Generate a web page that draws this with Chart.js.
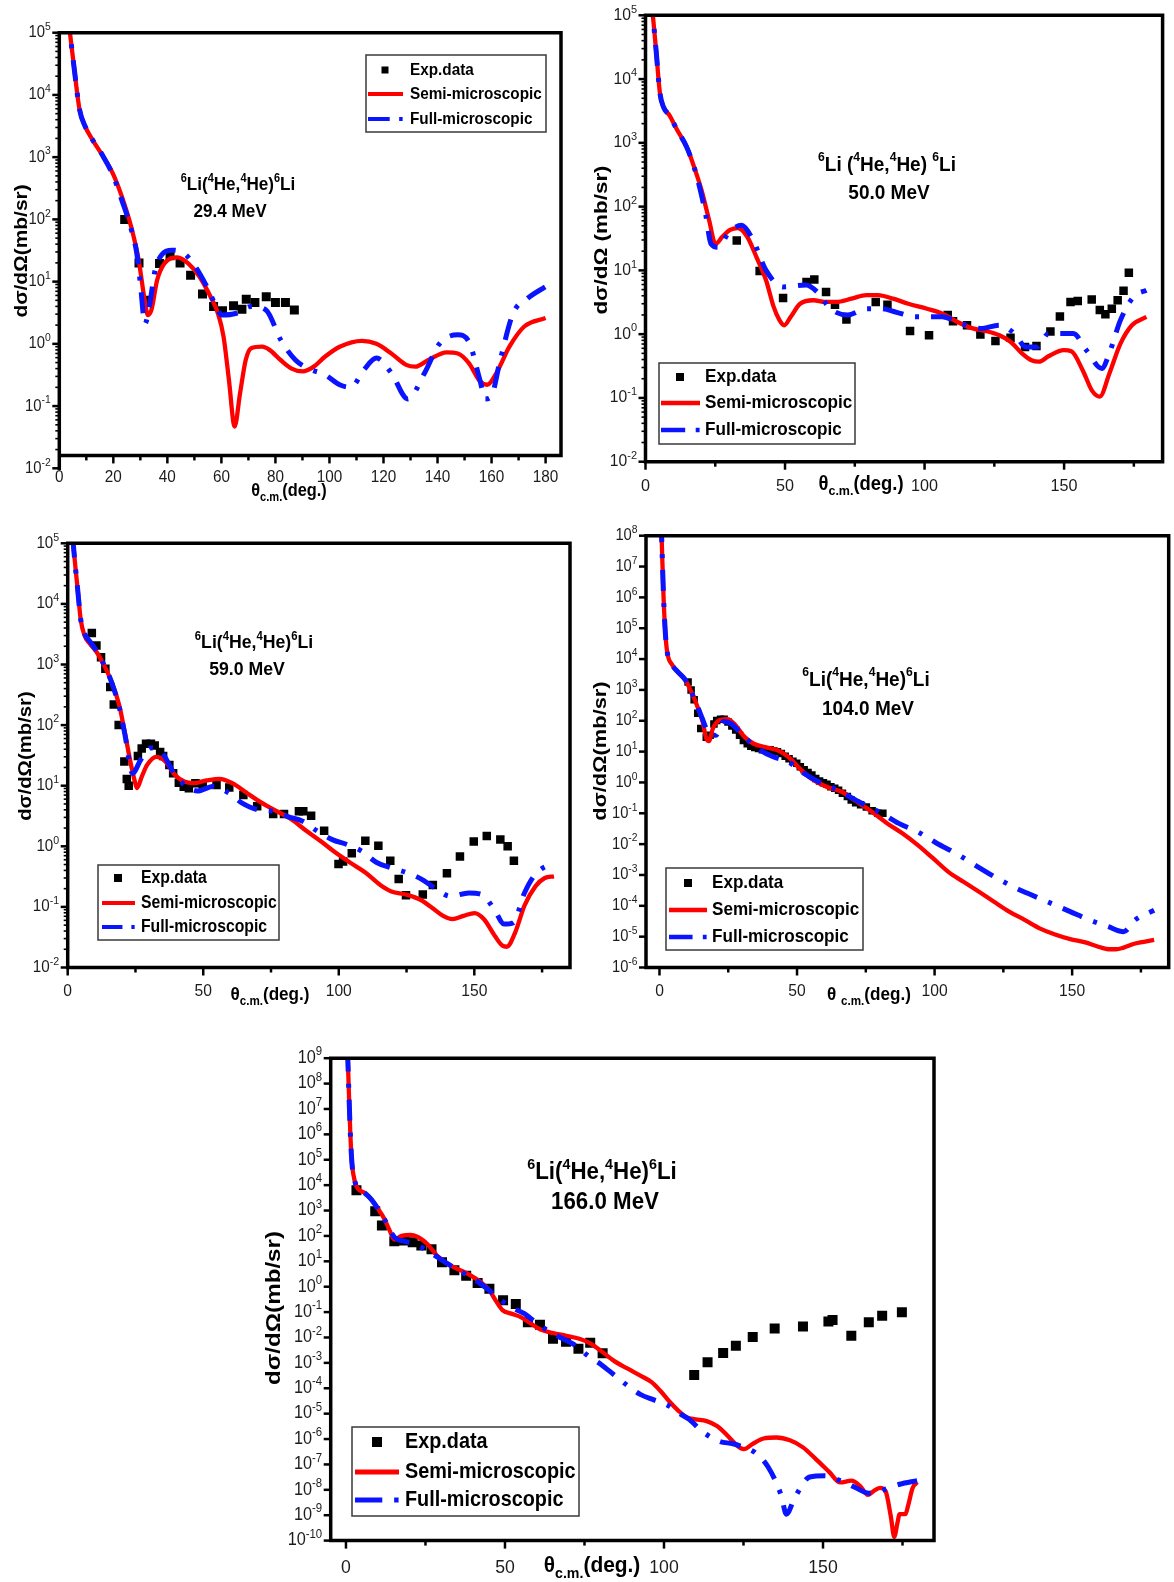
<!DOCTYPE html>
<html>
<head>
<meta charset="utf-8">
<title>6Li(4He,4He)6Li elastic scattering angular distributions</title>
<script src="https://cdn.jsdelivr.net/npm/chart.js@4.4.1/dist/chart.umd.min.js"></script>
<style>
  html, body { margin: 0; padding: 0; background: #fff; }
  #page { position: relative; width: 1174px; height: 1582px; overflow: hidden; background: #fff; }
  #page canvas { position: absolute; left: 0; top: 0; }
</style>
</head>
<body>
<div id="page">
  <canvas id="e29"></canvas>
  <canvas id="e50"></canvas>
  <canvas id="e59"></canvas>
  <canvas id="e104"></canvas>
  <canvas id="e166"></canvas>
</div>
<script>
// ---------- 29.4 MeV ----------
const exp29Angle = [24.2, 29.5, 32.5, 37.1, 41, 44.7, 48.6, 53, 57.1, 60.4, 64.5, 67.6, 69.2, 72.4, 76.6, 80, 83.7, 87];
const exp29Value = [100, 20, 5, 19.5, 26, 20, 12.6, 6.3, 4, 3.4, 4.1, 3.6, 5.2, 4.6, 5.7, 4.6, 4.6, 3.5];
const semi29Angle = [3.0, 5.5, 7.5, 9.6, 12.3, 16.4, 19.8, 23.2, 26.6, 29.4, 31.4, 32.8, 34.1, 36.2, 38.9, 43.7, 47.8, 51.9, 56, 58.7, 60.8, 62.8, 64.9, 66.9, 69, 71, 75.1, 77.8, 81.9, 86, 90.1, 94.2, 98.3, 103.8, 112, 117.4, 122.9, 128.4, 131.8, 136.6, 143.4, 147.5, 151.6, 155.7, 158.4, 161.8, 166.6, 172.1, 180];
const semi29Value = [2.2e5, 2.7e4, 5.8e3, 3.1e3, 1.9e3, 1e3, 550, 230, 76, 22, 5.7, 2.9, 3.5, 10.5, 19.5, 24.5, 19.5, 12, 5.7, 3.1, 1.3, 0.26, 0.047, 0.16, 0.55, 0.85, 0.9, 0.8, 0.55, 0.4, 0.36, 0.43, 0.62, 0.9, 1.12, 1.0, 0.7, 0.46, 0.43, 0.55, 0.73, 0.7, 0.49, 0.25, 0.22, 0.34, 0.9, 1.9, 2.6];
const full29Angle = [3.0, 5.5, 7.5, 9.6, 12.3, 16.4, 19.8, 23.2, 26.6, 28.7, 30, 31.7, 33.5, 35.5, 38.2, 41.7, 46.4, 50.5, 54.6, 58.7, 60, 65.6, 71, 76.5, 82, 87.4, 92.9, 98.3, 103.8, 107.9, 112.7, 117.4, 122.9, 129, 135.2, 140.7, 147.5, 151.6, 155.7, 157.7, 159.8, 163.2, 168, 173.4, 180];
const full29Value = [2.2e5, 2.7e4, 5.8e3, 3.1e3, 1.9e3, 1e3, 520, 200, 70, 28, 9.3, 2.1, 4.5, 15.5, 28, 32, 28, 17, 8.3, 3.5, 2.9, 3.1, 4, 3.5, 1.15, 0.55, 0.39, 0.32, 0.22, 0.2, 0.38, 0.59, 0.34, 0.13, 0.34, 1.0, 1.4, 1.08, 0.26, 0.13, 0.14, 0.55, 3.1, 5.4, 8.3];
const xTicks29 = [0, 20, 40, 60, 80, 100, 120, 140, 160, 180];
const xMinor29 = [10, 30, 50, 70, 90, 110, 130, 150, 170];
const yDecades29 = [-2, 5];

// ---------- 50.0 MeV ----------
const exp50Angle = [32.7, 40.9, 49.3, 57.7, 60.5, 64.7, 67.9, 72, 82.5, 86.7, 94.8, 101.6, 108.3, 110.2, 115.2, 120, 125.4, 130.8, 136, 140.1, 145.1, 148.5, 152.3, 154.9, 159.9, 162.8, 164.8, 167.1, 169.2, 171.3, 173.2];
const exp50Value = [29.5, 9.8, 3.7, 6.6, 7.2, 4.6, 2.9, 1.7, 3.2, 2.9, 1.12, 0.96, 2.0, 1.6, 1.38, 0.99, 0.78, 0.88, 0.63, 0.65, 1.1, 1.9, 3.2, 3.3, 3.5, 2.4, 2.05, 2.5, 3.4, 4.8, 9.2];
const semi50Angle = [2.0, 3.8, 5.2, 6.5, 8.6, 11.3, 14.7, 17.4, 20.1, 22.8, 25.1, 27.6, 30.3, 33, 36.4, 39.8, 43.2, 45.9, 48, 49.7, 52, 55.4, 60.2, 64.3, 68.3, 73.8, 79.2, 83.3, 88.7, 94.2, 100.9, 106.4, 111.8, 117.3, 122.7, 126.8, 130.8, 134.9, 138.3, 141, 144.4, 149.9, 152.6, 156.7, 160, 162.8, 166.2, 170.2, 174.3, 179.5];
const semi50Value = [2e5, 2.8e4, 5.9e3, 3.6e3, 2.7e3, 1.6e3, 870, 420, 180, 61, 26, 34, 43, 46, 34, 16, 7, 2.7, 1.66, 1.38, 1.86, 3.0, 3.4, 3.2, 3.2, 3.6, 4.1, 4.1, 3.6, 3.0, 2.5, 2.1, 1.55, 1.23, 1.1, 0.96, 0.76, 0.5, 0.39, 0.37, 0.45, 0.56, 0.54, 0.27, 0.13, 0.105, 0.24, 0.71, 1.38, 1.86];
const full50Angle = [2.0, 3.8, 5.2, 6.5, 8.6, 11.3, 14.7, 17.4, 19.4, 21.5, 23.5, 26.2, 29.6, 34.4, 38.5, 43.2, 49.3, 57.5, 61.5, 66.3, 72.4, 79.2, 84.6, 90, 96.9, 106.4, 111.8, 120, 126.8, 132.2, 136.3, 140.3, 144.4, 153.3, 158, 163.5, 166.2, 170.2, 175, 179.5];
const full50Value = [2e5, 2.8e4, 5.9e3, 3.6e3, 2.7e3, 1.6e3, 870, 420, 200, 78, 26, 23, 38, 51, 30, 10, 5.5, 5.9, 4.6, 2.5, 2.0, 2.5, 2.5, 2.2, 1.87, 1.87, 1.55, 1.23, 1.38, 1.02, 0.63, 0.63, 1.02, 1.02, 0.56, 0.29, 0.5, 1.66, 3.9, 4.9];
const xTicks50 = [0, 50, 100, 150];
const xMinor50 = [25, 75, 125, 175];
const yDecades50 = [-2, 5];

// ---------- 59.0 MeV ----------
const exp59Angle = [8.9, 10.6, 12.3, 13.9, 15.7, 17, 18.8, 20.9, 21.8, 22.5, 25.9, 27.3, 28.9, 30.7, 32.1, 34.1, 35.2, 37.5, 38.9, 41, 42.8, 44.7, 47.1, 49.8, 54.9, 59.6, 64.8, 69.9, 75.8, 79.8, 85.3, 86.9, 89.8, 94.6, 99.9, 101.6, 104.8, 109.8, 114.6, 119, 122.1, 124.8, 131, 134.7, 139.9, 144.7, 149.8, 154.6, 159.6, 162.3, 164.6];
const exp59Value = [3300, 2050, 1320, 850, 425, 218, 100, 25, 12.9, 10, 31, 41, 49, 49, 46, 36, 31, 22, 16, 11.2, 9.6, 9.1, 11, 10.7, 10.3, 9.3, 7.0, 4.6, 3.4, 3.4, 3.8, 3.8, 3.2, 1.8, 0.51, 0.56, 0.77, 1.24, 1.02, 0.58, 0.29, 0.155, 0.16, 0.23, 0.36, 0.68, 1.2, 1.48, 1.29, 1.0, 0.58];
const semi59Angle = [1.8, 2.7, 3.7, 4.8, 6.1, 8.2, 10.9, 13.6, 16.4, 19.1, 21.1, 23.2, 24.6, 25.5, 27.3, 29.3, 32.7, 36.1, 39.6, 43, 46.4, 51.2, 56, 60.7, 66.2, 71.6, 77.1, 82.5, 88, 93.5, 98.9, 104.4, 109.8, 115.3, 119.4, 124.8, 130.3, 134.4, 138.5, 141.9, 146, 150.1, 153.5, 157.6, 160.3, 162, 165.1, 168.5, 172.6, 176, 179.4];
const semi59Value = [1.3e5, 4.7e4, 1.7e4, 5.5e3, 3.1e3, 2.2e3, 1.55e3, 930, 490, 204, 74, 24, 12.6, 9.1, 14, 22, 30, 25, 15, 11.7, 11, 12.2, 13, 11, 7.5, 5.2, 3.8, 2.8, 1.8, 1.2, 0.78, 0.53, 0.37, 0.23, 0.18, 0.16, 0.13, 0.097, 0.071, 0.063, 0.071, 0.079, 0.063, 0.033, 0.023, 0.022, 0.038, 0.105, 0.22, 0.3, 0.32];
const full59Angle = [1.8, 2.7, 3.7, 4.8, 6.1, 8.2, 10.9, 13.6, 16.4, 19.1, 21.1, 23.9, 27, 30.7, 34.8, 38.9, 43, 47.8, 53.9, 59.4, 64.2, 70.3, 75.8, 81.2, 86.7, 92.2, 97.6, 103, 108.5, 114, 119.4, 124.8, 130.3, 135.1, 141.2, 148, 152.8, 157.6, 161, 164.4, 168.5, 172.6, 179.4];
const full59Value = [1.3e5, 4.7e4, 1.7e4, 5.5e3, 3.3e3, 2.4e3, 1.6e3, 950, 480, 190, 70, 16, 27, 42, 35, 17, 10.4, 8.2, 9.8, 7.6, 5.2, 4, 3.8, 3.1, 2.6, 1.77, 1.29, 1.07, 0.83, 0.54, 0.44, 0.37, 0.29, 0.21, 0.15, 0.17, 0.16, 0.087, 0.052, 0.055, 0.17, 0.35, 0.54];
const xTicks59 = [0, 50, 100, 150];
const xMinor59 = [25, 75, 125, 175];
const yDecades59 = [-2, 5];

// ---------- 104.0 MeV ----------
const exp104Angle = [10.4, 11.5, 12.6, 13.9, 15, 17, 18.4, 19.8, 20.8, 22.2, 23.5, 24.9, 26.3, 27.7, 29.1, 30.5, 31.9, 33.2, 34.6, 36, 37.4, 38.8, 40.2, 41.6, 42.9, 44.3, 45.7, 47.1, 48.5, 49.9, 51.2, 52.6, 54, 55.4, 56.8, 58.2, 59.6, 60.9, 62.3, 63.7, 65.1, 66.5, 68.3, 69.7, 71.3, 73.1, 75.2, 77.3, 79.4, 81.2];
const exp104Value = [1800, 1000, 480, 174, 56, 29, 34, 79, 102, 112, 112, 91, 68, 50, 34, 23, 18, 14.8, 13.5, 12.6, 11.5, 11.5, 11.5, 10.5, 9.8, 8.7, 7.1, 5.9, 4.9, 4.2, 3.2, 2.6, 2.1, 1.74, 1.35, 1.12, 0.98, 0.87, 0.72, 0.65, 0.56, 0.45, 0.35, 0.27, 0.22, 0.19, 0.16, 0.12, 0.1, 0.1];
const semi104Angle = [0.6, 1.1, 1.5, 2.1, 2.8, 4.6, 6.6, 9.4, 11.5, 13.6, 15.7, 17, 18, 19.4, 21.9, 24.7, 27.4, 30.9, 34.3, 38.5, 42.7, 46.8, 51, 55.1, 60.7, 66.2, 71.7, 77.3, 82.8, 88.4, 93.9, 99.4, 105, 110.5, 116, 121.6, 127.1, 132.7, 138.2, 143.8, 149.3, 154.8, 159, 163.2, 165.9, 168.7, 172.9, 179.8];
const semi104Value = [3e8, 1.1e7, 9.3e5, 7.8e4, 1.7e4, 6.5e3, 3.9e3, 2.1e3, 890, 320, 93, 27, 22, 56, 105, 112, 76, 30, 18, 14, 11.2, 6.8, 2.8, 1.35, 0.72, 0.5, 0.24, 0.11, 0.047, 0.022, 9.3e-3, 3.5e-3, 1.26e-3, 6e-4, 2.9e-4, 1.35e-4, 6.5e-5, 3.5e-5, 1.86e-5, 1.17e-5, 8.3e-6, 6.5e-6, 4.9e-6, 3.9e-6, 3.9e-6, 4.4e-6, 6e-6, 7.8e-6];
const full104Angle = [0.6, 1.1, 1.5, 2.1, 2.8, 4.6, 6.6, 9.4, 11.5, 13.6, 15.7, 17, 19.1, 20.5, 23.3, 26, 30.2, 35.7, 41.3, 46.8, 52.4, 57.9, 63.4, 69, 74.5, 80, 87, 93.9, 100.8, 107.8, 114.7, 121.6, 128.5, 135.5, 142.4, 149.3, 156.2, 163.2, 168.7, 172.9, 179.8];
const full104Value = [3e8, 1.1e7, 9.3e5, 7.8e4, 1.7e4, 6.5e3, 3.9e3, 2.1e3, 890, 320, 110, 56, 34, 34, 95, 81, 34, 12.6, 6.8, 4.7, 2.0, 1.05, 0.65, 0.35, 0.19, 0.11, 0.047, 0.025, 0.0107, 5e-3, 2.1e-3, 8.9e-4, 4.2e-4, 2.2e-4, 1.2e-4, 6.5e-5, 3.5e-5, 2.1e-5, 1.45e-5, 3.5e-5, 7.2e-5];
const xTicks104 = [0, 50, 100, 150];
const xMinor104 = [25, 75, 125, 175];
const yDecades104 = [-6, 8];

// ---------- 166.0 MeV ----------
const exp166Angle = [3.3, 9.2, 11.3, 15.2, 18.2, 21, 23.7, 26.9, 30.2, 34.1, 37.8, 41.4, 45.1, 49.4, 53.4, 57.2, 61, 65.1, 69.2, 73.1, 76.8, 80.7, 109.5, 113.7, 118.6, 122.6, 127.9, 134.8, 143.7, 151.7, 153, 158.9, 164.4, 168.6, 174.8];
const exp166Value = [6.3e3, 930, 257, 62, 66, 56, 42, 30, 9.1, 4.4, 2.7, 1.41, 0.83, 0.29, 0.21, 0.04, 0.032, 8.9e-3, 6.8e-3, 3.6e-3, 6.2e-3, 2.4e-3, 3.3e-4, 1.07e-3, 2.45e-3, 4.7e-3, 0.0105, 0.0224, 0.027, 0.043, 0.049, 0.0117, 0.04, 0.071, 0.098];
const semi166Angle = [0.5, 1, 1.4, 1.9, 2.8, 3.7, 5.8, 7.9, 9.9, 12, 13.8, 15.2, 17.5, 20.3, 23, 25.8, 28.6, 32, 35.4, 38.9, 42.3, 45.1, 47.2, 49.2, 52, 54.8, 57.5, 61, 65.1, 69.2, 73.4, 76.8, 80.3, 84.4, 88.6, 92.7, 96.1, 98.9, 101.7, 104.4, 107.2, 109.9, 113.4, 116.8, 120.3, 123, 125.1, 127.9, 131.3, 135.4, 139.6, 143.7, 147.9, 152, 155.4, 158.9, 161.7, 164.1, 165.8, 167.9, 169.7, 171.3, 172.4, 173.4, 174.1, 175.9, 176.8, 178.2, 179.6];
const semi166Value = [2e9, 2.2e7, 8.9e5, 6.9e4, 1.4e4, 7.4e3, 5e3, 2.8e3, 1.26e3, 490, 158, 72, 100, 110, 85, 45, 17, 7.8, 4.8, 2.95, 1.55, 0.71, 0.27, 0.12, 0.087, 0.065, 0.04, 0.021, 0.015, 0.0117, 8.9e-3, 5.9e-3, 2.9e-3, 1.17e-3, 5.9e-4, 3.1e-4, 1.74e-4, 7.8e-5, 3e-5, 1.35e-5, 7.1e-6, 6e-6, 5.1e-6, 3.2e-6, 1.23e-6, 5.5e-7, 4e-7, 6.5e-7, 1.05e-6, 1.15e-6, 8.9e-7, 4.7e-7, 1.55e-7, 5e-8, 1.95e-8, 2.3e-8, 1.4e-8, 6.3e-9, 8.7e-9, 1.2e-8, 8.7e-9, 9.3e-10, 1.4e-10, 4.9e-10, 1.1e-9, 1.1e-9, 2.5e-9, 1.2e-8, 1.95e-8];
const full166Angle = [0.5, 1, 1.4, 1.9, 2.8, 3.7, 5.8, 7.9, 9.9, 12, 13.8, 15.4, 18.2, 21, 24.4, 27.9, 31.3, 34.8, 38.9, 42.3, 45.8, 49.2, 52.7, 56.1, 59.6, 63.7, 67.9, 72, 76.1, 80.3, 84.4, 88.6, 92.7, 96.8, 101, 105.1, 107.9, 112, 117.5, 121.7, 125.1, 128.6, 132.7, 136.8, 138.5, 141, 145.8, 150.6, 155.4, 160.3, 164.4, 169.2, 174.1, 179.6];
const full166Value = [2e9, 2.2e7, 8.9e5, 6.9e4, 1.4e4, 7.4e3, 5e3, 2.8e3, 1.26e3, 490, 170, 85, 62, 52, 32, 17, 9.1, 4.8, 2.5, 1.32, 0.6, 0.27, 0.14, 0.087, 0.04, 0.0178, 9.3e-3, 5e-3, 1.9e-3, 8.5e-4, 3.3e-4, 1.26e-4, 5.6e-5, 3.5e-5, 2.2e-5, 9.8e-6, 6e-6, 2e-6, 8.1e-7, 6.5e-7, 4.7e-7, 2.95e-7, 8.1e-8, 6.3e-9, 1.1e-9, 4.6e-9, 3.2e-8, 3.6e-8, 2.3e-8, 1.2e-8, 7.4e-9, 1.02e-8, 1.66e-8, 2.3e-8];
const xTicks166 = [0, 50, 100, 150];
const xMinor166 = [25, 75, 125, 175];
const yDecades166 = [-10, 9];

// ---------- drawing setup ----------
const PAGE_W = 1174, PAGE_H = 1582;
const FONT = '"Liberation Sans", Arial, Helvetica, sans-serif';
const SEMI_COLOR = '#ff0000';
const FULL_COLOR = '#0a14ff';
const FULL_DASH = [21, 12, 4, 12];

const REACTION = [['6', 1], ['Li(', 0], ['4', 1], ['He,', 0], ['4', 1], ['He)', 0], ['6', 1], ['Li', 0]];
const REACTION_SPACED = [['6', 1], ['Li (', 0], ['4', 1], ['He,', 0], ['4', 1], ['He) ', 0], ['6', 1], ['Li', 0]];
const THETA_TITLE = [['θ', 0], ['c.m.', 2], ['(deg.)', 0]];
const THETA_TITLE_SPACED = [['θ ', 0], ['c.m.', 2], ['(deg.)', 0]];

function xy(angles, values) {
  return angles.map((a, i) => ({ x: a, y: values[i] }));
}

// Text made of normal / superscript (1) / subscript (2) runs, with optional horizontal squeeze.
function richText(ctx, segs, x, y, o) {
  const size = o.size, weight = o.weight || 'bold';
  const supScale = o.supScale || 0.64;
  const parts = segs.map(([t, k]) => {
    const s = k === 1 ? size * supScale : k === 2 ? size * 0.68 : size;
    ctx.font = `${weight} ${s}px ${FONT}`;
    return { t, k, s, w: ctx.measureText(t).width };
  });
  const total = parts.reduce((acc, p) => acc + p.w, 0);
  ctx.save();
  ctx.translate(x, y);
  if (o.rot) ctx.rotate(o.rot);
  ctx.scale(o.sx || 1, 1);
  let cx = o.align === 'center' ? -total / 2 : o.align === 'right' ? -total : 0;
  ctx.textBaseline = 'middle';
  ctx.textAlign = 'left';
  ctx.fillStyle = o.color || '#000';
  for (const p of parts) {
    ctx.font = `${weight} ${p.s}px ${FONT}`;
    const dy = p.k === 1 ? -size * 0.36 : p.k === 2 ? size * 0.34 : 0;
    ctx.fillText(p.t, cx, dy);
    cx += p.w;
  }
  ctx.restore();
}

function seg(ctx, x1, y1, x2, y2) {
  ctx.beginPath();
  ctx.moveTo(x1, y1);
  ctx.lineTo(x2, y2);
  ctx.stroke();
}

function drawLegend(ctx, chart, L) {
  const [l, t, r, b] = L.box;
  const labels = chart.data.datasets.map(d => d.label);
  ctx.save();
  ctx.fillStyle = '#fff';
  ctx.fillRect(l, t, r - l, b - t);
  ctx.strokeStyle = '#3a3a3a';
  ctx.lineWidth = 1.5;
  ctx.strokeRect(l, t, r - l, b - t);
  // square marker
  ctx.fillStyle = '#000';
  ctx.fillRect(L.mark - L.markSize / 2, L.rows[0] - L.markSize / 2, L.markSize, L.markSize);
  // solid red sample
  ctx.lineCap = 'butt';
  ctx.strokeStyle = SEMI_COLOR;
  ctx.lineWidth = L.lineW;
  seg(ctx, L.line[0], L.rows[1], L.line[1], L.rows[1]);
  // dash-dot blue sample
  const len = L.line[1] - L.line[0];
  ctx.strokeStyle = FULL_COLOR;
  ctx.setLineDash([len * 0.62, len * 0.27, len * 0.1, 200]);
  seg(ctx, L.line[0], L.rows[2], L.line[1], L.rows[2]);
  ctx.setLineDash([]);
  for (let i = 0; i < 3; i++) {
    richText(ctx, [[labels[i], 0]], L.text, L.rows[i], { size: L.size, sx: L.sx, align: 'left' });
  }
  ctx.restore();
}

const panelDecor = {
  id: 'panelDecor',
  afterDatasetsDraw(chart, args, opts) {
    const p = opts.panel;
    const { ctx, chartArea: a } = chart;
    const xs = chart.scales.x, ys = chart.scales.y;
    const axisY = p.xAxisAt ? ys.getPixelForValue(p.xAxisAt) : a.bottom;
    ctx.save();

    // frame
    ctx.strokeStyle = '#000';
    ctx.lineWidth = 3.5;
    ctx.lineCap = 'square';
    ctx.beginPath();
    ctx.moveTo(a.left, a.bottom);
    ctx.lineTo(a.left, a.top);
    ctx.lineTo(a.right, a.top);
    ctx.lineTo(a.right, axisY);
    ctx.lineTo(a.left, axisY);
    ctx.stroke();

    // y axis: decades, minor ticks, labels
    ctx.lineCap = 'butt';
    for (let e = p.yDecades[0]; e <= p.yDecades[1]; e++) {
      const py = ys.getPixelForValue(Math.pow(10, e));
      ctx.lineWidth = 2.5;
      seg(ctx, a.left - 7, py, a.left, py);
      richText(ctx, [['10', 0], [String(e), 1]], a.left - 8.5, py, {
        size: p.yTickSize, weight: 'normal', sx: p.tickSx, align: 'right', color: '#1c1c1c', supScale: 0.7
      });
      if (p.minorY && e < p.yDecades[1]) {
        ctx.lineWidth = 1.6;
        for (let m = 2; m < 10; m++) {
          const q = ys.getPixelForValue(m * Math.pow(10, e));
          seg(ctx, a.left - 4, q, a.left, q);
        }
      }
    }

    // x axis: major / minor ticks and labels
    ctx.lineWidth = 2.5;
    for (const v of p.xTicks) {
      const px = xs.getPixelForValue(v);
      seg(ctx, px, axisY, px, axisY + 8);
      richText(ctx, [[String(v), 0]], px, p.xLabelY, {
        size: p.xTickSize, weight: 'normal', sx: p.tickSx, align: 'center', color: '#1c1c1c'
      });
    }
    for (const v of p.xMinor) {
      const px = xs.getPixelForValue(v);
      if (px < a.right - 2) seg(ctx, px, axisY, px, axisY + 5);
    }

    // axis titles
    richText(ctx, p.xTitle.segs, p.xTitle.x, p.xTitle.y, { size: p.xTitle.size, sx: p.xTitle.sx, align: 'center' });
    richText(ctx, [[p.yTitle.text, 0]], p.yTitle.x, p.yTitle.y, {
      size: p.yTitle.size, sx: p.yTitle.sx, align: 'center', rot: -Math.PI / 2
    });

    // reaction and beam energy
    richText(ctx, p.note.reaction, p.note.rx, p.note.ry, { size: p.note.size, sx: p.note.sx, align: 'center' });
    richText(ctx, [[p.note.energy, 0]], p.note.ex, p.note.ey, { size: p.note.size, sx: p.note.sx, align: 'center' });

    drawLegend(ctx, chart, p.legend);
    ctx.restore();
  }
};

const panels = [
  {
    id: 'e29', exp: [exp29Angle, exp29Value], semi: [semi29Angle, semi29Value], full: [full29Angle, full29Value],
    area: { l: 59.3, t: 32.7, r: 561, b: 468.3 }, xMin: 0, xMax: 185.7, yDecades: yDecades29, xAxisAt: 0.0161,
    xTicks: xTicks29, xMinor: xMinor29, xLabelY: 477, xTickSize: 17, yTickSize: 16.5, tickSx: 0.9, minorY: true, markSide: 9,
    yTitle: { text: 'dσ/dΩ(mb/sr)', x: 22, y: 251, size: 19, sx: 1.1 },
    xTitle: { segs: THETA_TITLE, x: 289, y: 491, size: 19, sx: 0.86 },
    note: { reaction: REACTION, rx: 238, ry: 185, energy: '29.4 MeV', ex: 230, ey: 212, size: 19, sx: 0.9 },
    legend: { box: [366, 55, 546, 132], rows: [70, 94, 119], mark: 385, markSize: 7, line: [368, 403], lineW: 4, text: 410, size: 17, sx: 0.9 }
  },
  {
    id: 'e50', exp: [exp50Angle, exp50Value], semi: [semi50Angle, semi50Value], full: [full50Angle, full50Value],
    area: { l: 645.5, t: 15.3, r: 1162.6, b: 461.7 }, xMin: 0, xMax: 185.3, yDecades: yDecades50,
    xTicks: xTicks50, xMinor: xMinor50, xLabelY: 486, xTickSize: 17, yTickSize: 16.5, tickSx: 0.95, minorY: true, markSide: 8.5,
    yTitle: { text: 'dσ/dΩ (mb/sr)', x: 602, y: 240, size: 19, sx: 1.18 },
    xTitle: { segs: THETA_TITLE, x: 861, y: 484, size: 20, sx: 0.92 },
    note: { reaction: REACTION_SPACED, rx: 887, ry: 165, energy: '50.0 MeV', ex: 889, ey: 193, size: 20, sx: 0.95 },
    legend: { box: [659, 363, 855, 444], rows: [377, 403, 430], mark: 680, markSize: 8, line: [661, 700], lineW: 4.5, text: 705, size: 19, sx: 0.9 }
  },
  {
    id: 'e59', exp: [exp59Angle, exp59Value], semi: [semi59Angle, semi59Value], full: [full59Angle, full59Value],
    area: { l: 67.7, t: 543.3, r: 570, b: 967.5 }, xMin: 0, xMax: 185.3, yDecades: yDecades59,
    xTicks: xTicks59, xMinor: xMinor59, xLabelY: 991, xTickSize: 17, yTickSize: 16.5, tickSx: 0.92, minorY: true, markSide: 8.5,
    yTitle: { text: 'dσ/dΩ(mb/sr)', x: 26, y: 756, size: 19, sx: 1.07 },
    xTitle: { segs: THETA_TITLE, x: 270, y: 995, size: 19, sx: 0.9 },
    note: { reaction: REACTION, rx: 254, ry: 643, energy: '59.0 MeV', ex: 247, ey: 670, size: 19, sx: 0.93 },
    legend: { box: [98, 865, 279, 940], rows: [878, 903, 927], mark: 118, markSize: 8, line: [102, 135], lineW: 4, text: 141, size: 17.5, sx: 0.9 }
  },
  {
    id: 'e104', exp: [exp104Angle, exp104Value], semi: [semi104Angle, semi104Value], full: [full104Angle, full104Value],
    area: { l: 646, t: 535.7, r: 1170, b: 967.5 }, xMin: -4.9, xMax: 185.1, yDecades: yDecades104,
    xTicks: xTicks104, xMinor: xMinor104, xLabelY: 991.5, xTickSize: 17, yTickSize: 16, tickSx: 0.92, minorY: false, markSide: 7.5,
    yTitle: { text: 'dσ/dΩ(mb/sr)', x: 601, y: 751, size: 19, sx: 1.15 },
    xTitle: { segs: THETA_TITLE_SPACED, x: 869, y: 995, size: 19, sx: 0.9 },
    note: { reaction: REACTION, rx: 866, ry: 680, energy: '104.0 MeV', ex: 868, ey: 709, size: 20, sx: 0.95 },
    legend: { box: [666, 868, 863, 950], rows: [883, 910, 937], mark: 688, markSize: 8, line: [669, 707], lineW: 4.5, text: 712, size: 19, sx: 0.9 }
  },
  {
    id: 'e166', exp: [exp166Angle, exp166Value], semi: [semi166Angle, semi166Value], full: [full166Angle, full166Value],
    area: { l: 330.7, t: 1058.2, r: 934, b: 1540.6 }, xMin: -4.8, xMax: 184.9, yDecades: yDecades166,
    xTicks: xTicks166, xMinor: xMinor166, xLabelY: 1568, xTickSize: 19, yTickSize: 17.5, tickSx: 0.93, minorY: false, markSide: 10,
    yTitle: { text: 'dσ/dΩ(mb/sr)', x: 274, y: 1308, size: 21, sx: 1.15 },
    xTitle: { segs: THETA_TITLE, x: 592, y: 1566, size: 22, sx: 0.95 },
    note: { reaction: REACTION, rx: 602, ry: 1173, energy: '166.0 MeV', ex: 605, ey: 1203, size: 23, sx: 0.97 },
    legend: { box: [352, 1427, 579, 1516], rows: [1442, 1472, 1500], mark: 377, markSize: 10, line: [355, 399], lineW: 5, text: 405, size: 22, sx: 0.9 }
  }
];

panels.forEach(p => {
  const cv = document.getElementById(p.id);
  cv.width = PAGE_W;
  cv.height = PAGE_H;
  new Chart(cv, {
    type: 'scatter',
    data: {
      datasets: [
        {
          label: 'Exp.data', data: xy(p.exp[0], p.exp[1]),
          pointStyle: 'rect', pointRadius: p.markSide / Math.SQRT2, pointHoverRadius: p.markSide / Math.SQRT2,
          backgroundColor: '#000', borderColor: '#000', borderWidth: 0, order: 2
        },
        {
          label: 'Semi-microscopic', data: xy(p.semi[0], p.semi[1]), showLine: true,
          borderColor: SEMI_COLOR, borderWidth: 4.3, pointRadius: 0, cubicInterpolationMode: 'monotone', order: 1
        },
        {
          label: 'Full-microscopic', data: xy(p.full[0], p.full[1]), showLine: true,
          borderColor: FULL_COLOR, borderWidth: 5, borderDash: FULL_DASH, borderCapStyle: 'butt',
          pointRadius: 0, cubicInterpolationMode: 'monotone', order: 0
        }
      ]
    },
    options: {
      responsive: false,
      animation: false,
      events: [],
      layout: { padding: { left: p.area.l, top: p.area.t, right: PAGE_W - p.area.r, bottom: PAGE_H - p.area.b } },
      plugins: { legend: { display: false }, tooltip: { enabled: false }, panelDecor: { panel: p } },
      scales: {
        x: { type: 'linear', min: p.xMin, max: p.xMax, display: false },
        y: { type: 'logarithmic', min: Math.pow(10, p.yDecades[0]), max: Math.pow(10, p.yDecades[1]), display: false }
      }
    },
    plugins: [panelDecor]
  });
});
</script>
</body>
</html>
